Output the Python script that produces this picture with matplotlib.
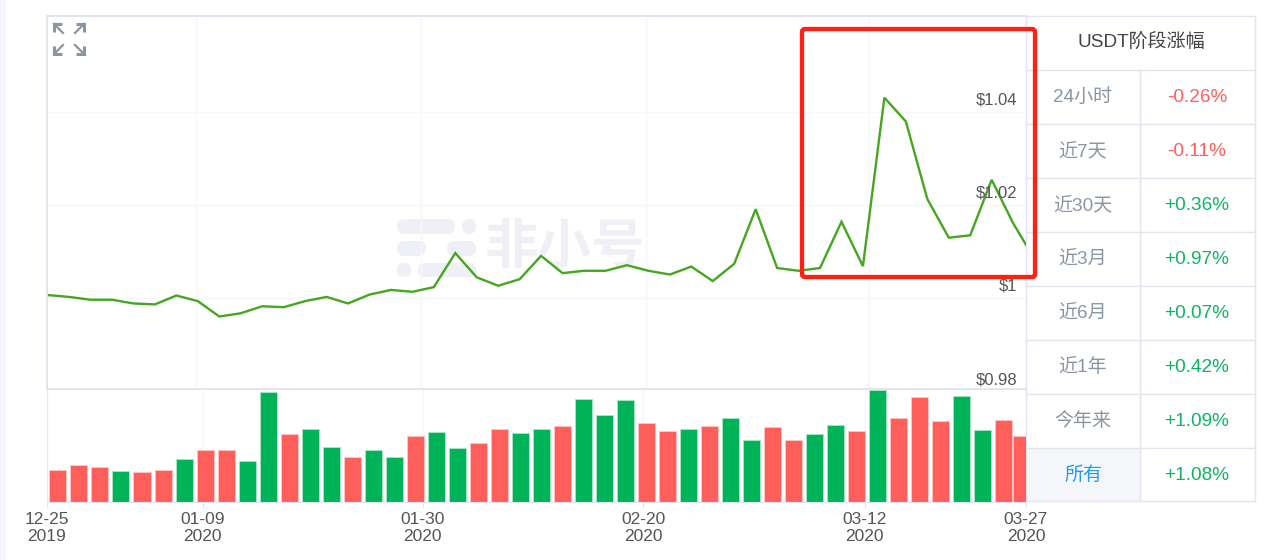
import matplotlib
matplotlib.use("Agg")
import matplotlib.pyplot as plt
from matplotlib.patches import FancyBboxPatch, Rectangle

plt.rcParams['font.family'] = ['Liberation Sans', 'Noto Sans CJK SC']

# ---------- data ----------
prices = [1.0007, 1.0003, 0.9997, 0.9997, 0.9989, 0.9987, 1.0006, 0.9994, 0.9961, 0.9968,
          0.9983, 0.9981, 0.9994, 1.0003, 0.9989, 1.0008, 1.0018, 1.0014, 1.0024, 1.0097,
          1.0045, 1.0027, 1.0041, 1.0091, 1.0054, 1.0059, 1.0059, 1.0071, 1.0059, 1.0051,
          1.0068, 1.0037, 1.0074, 1.0191, 1.0065, 1.0059, 1.0065, 1.0164, 1.0069, 1.0430,
          1.0379, 1.0213, 1.0130, 1.0135, 1.0254, 1.0161, 1.0084]

volumes = [32.0, 36.7, 35.0, 31.0, 29.7, 31.7, 42.7, 51.7, 52.3, 41.0,
           110.3, 68.3, 73.3, 54.7, 45.0, 51.7, 45.3, 66.3, 69.7, 53.7,
           58.7, 73.3, 69.3, 73.3, 76.7, 103.3, 87.0, 102.3, 79.7, 70.7,
           73.3, 76.7, 84.3, 61.7, 75.0, 62.3, 68.0, 77.0, 70.7, 112.3,
           84.3, 105.7, 81.3, 106.3, 72.3, 82.0, 66.3]

vol_dirs = "RRRGRRGRRGGRGGRGGRGGRRGGRGGGRRGRGGRRGGRGRRRGGRR"

price_ticks = [0.98, 1.0, 1.02, 1.04]
price_labels = ["$0.98", "$1", "$1.02", "$1.04"]

date_labels = ["12-25\n2019", "01-09\n2020", "01-30\n2020", "02-20\n2020", "03-12\n2020", "03-27\n2020"]

table_title = "USDT阶段涨幅"
periods = ["24小时", "近7天", "近30天", "近3月", "近6月", "近1年", "今年来", "所有"]
changes = ["-0.26%", "-0.11%", "+0.36%", "+0.97%", "+0.07%", "+0.42%", "+1.09%", "+1.08%"]

# ---------- styles ----------
W, H = 1268, 560
GREEN = "#00B359"
RED = "#FF5F5B"
LINE = "#45A61F"
BORDER = "#E4E4F0"
GRID = "#F6F7FA"
WATERMARK = "#EEF0F5"
TEXT = "#555555"


def px_axes(left, top, right, bottom, z):
    ax = fig.add_axes([left / W, 1 - bottom / H, (right - left) / W, (bottom - top) / H], zorder=z)
    return ax


def pill(ax, x0, x1, y0, y1):
    r = (y1 - y0) / 2
    ax.add_patch(FancyBboxPatch((x0 + r, y0 + r), x1 - x0 - 2 * r, 0,
                                boxstyle=f"round,pad={r},rounding_size={r}",
                                fc=WATERMARK, ec="none"))


fig = plt.figure(figsize=(W / 100, H / 100), dpi=100, facecolor="white")

# ---------- background layer: page strip, watermark, table ----------
bg = px_axes(0, 0, W, H, 0)
bg.set_xlim(0, W)
bg.set_ylim(H, 0)
bg.axis("off")
bg.add_patch(Rectangle((0, 0), 6, H, fc="#F5F6FC", ec="none"))

pill(bg, 397, 455, 219, 234)
pill(bg, 462, 476, 219, 234)
pill(bg, 397, 426, 241, 256)
pill(bg, 447, 476, 241, 256)
pill(bg, 397, 411, 263, 277)
pill(bg, 418, 476, 263, 277)
bg.text(565, 247, "非小号", fontsize=38.5, fontweight="bold", color=WATERMARK,
        ha="center", va="center", family="Noto Sans CJK SC")

# table
bg.add_patch(Rectangle((1026, 447.5), 114, 54, fc="#F5F6FA", ec="none"))
bg.plot([1026, 1255, 1255, 1026, 1026], [15.5, 15.5, 501, 501, 15.5], color=BORDER, lw=1)
for i in range(len(periods)):
    y = 69.5 + 54 * i
    bg.plot([1026, 1254], [y, y], color=BORDER, lw=1)
bg.plot([1140, 1140], [70, 500], color=BORDER, lw=1)
bg.text(1141, 42, table_title, fontsize=13.7, color="#444444", ha="center", va="center")
for i, (p, c) in enumerate(zip(periods, changes)):
    y = 97 + 54 * i
    bg.text(1083, y, p, fontsize=13.7, color="#1E9CF0" if p == "所有" else "#8A96A3",
            ha="center", va="center")
    bg.text(1197, y, c, fontsize=13.7, color=RED if c[0] == "-" else "#0DB562",
            ha="center", va="center")

# ---------- price chart ----------
ax = px_axes(47, 16, 1026, 389, 2)
ax.patch.set_visible(False)
ax.plot(range(len(prices)), prices, color=LINE, lw=1.7, solid_joinstyle="miter")
ax.set_xticks([6.9, 17.4, 27.9, 38.3])
ax.set_yticks(price_ticks)
ax.set_xlim(-0.03, 45.6)
ax.set_ylim(0.98057, 1.0605)
ax.tick_params(length=0, labelbottom=False, labelleft=False)
ax.grid(True, color=GRID, lw=1)
ax.set_axisbelow(True)
for side in ["left", "top", "bottom"]:
    ax.spines[side].set_color(BORDER)
    ax.spines[side].set_linewidth(1.4)
ax.spines["right"].set_visible(False)
for v, lab in zip(price_ticks, price_labels):
    ax.annotate(lab, xy=(1, v), xycoords=("axes fraction", "data"), xytext=(-6.5, 8.6),
                textcoords="offset points", ha="right", va="center", fontsize=12,
                color=TEXT, annotation_clip=False)

# ---------- volume chart ----------
ax2 = px_axes(47, 390, 1026, 502, 2)
ax2.patch.set_visible(False)
colors = [GREEN if d == "G" else RED for d in vol_dirs]
edges = ["#A6E5C4" if d == "G" else "#FFC4C2" for d in vol_dirs]
widths = [0.81] * (len(volumes) - 1) + [1.14]  # last bar runs wider under the table edge
ax2.bar(range(len(volumes)), volumes, width=widths, color=colors, edgecolor=edges, linewidth=0.7)
ax2.set_xticks([-0.52, 6.88, 17.35, 27.86, 38.38, 46.06])
ax2.set_xticklabels(date_labels, fontsize=12.5, color=TEXT, linespacing=1.1)
ax2.set_xlim(-0.52, 46.06)
ax2.set_ylim(0, 112.3)
ax2.set_yticks([])
ax2.tick_params(axis="x", length=4, width=0.8, color=BORDER, pad=3.5)
ax2.grid(True, axis="x", color=GRID, lw=1)
ax2.set_axisbelow(True)
for side in ["top", "right"]:
    ax2.spines[side].set_visible(False)
for side in ["left", "bottom"]:
    ax2.spines[side].set_color(BORDER)
    ax2.spines[side].set_linewidth(0.8)

# ---------- top layer: expand icon and red box ----------
fg = px_axes(0, 0, W, H, 5)
fg.patch.set_visible(False)
fg.set_xlim(0, W)
fg.set_ylim(H, 0)
fg.axis("off")

for cx, cy, dx, dy in [(54, 24, 1, 1), (84, 24, -1, 1), (54, 54, 1, -1), (84, 54, -1, -1)]:
    fg.plot([cx + 8 * dx, cx, cx], [cy, cy, cy + 8 * dy], color="#8A95A0", lw=2.2,
            solid_joinstyle="miter", solid_capstyle="butt")
    fg.plot([cx, cx + 9 * dx], [cy, cy + 9 * dy], color="#8A95A0", lw=1.6)

fg.add_patch(FancyBboxPatch((803, 30), 231, 246, boxstyle="round,pad=1,rounding_size=3",
                            fc="none", ec="#FF2015", lw=3.1))

fig.savefig("out.png", dpi=100)
